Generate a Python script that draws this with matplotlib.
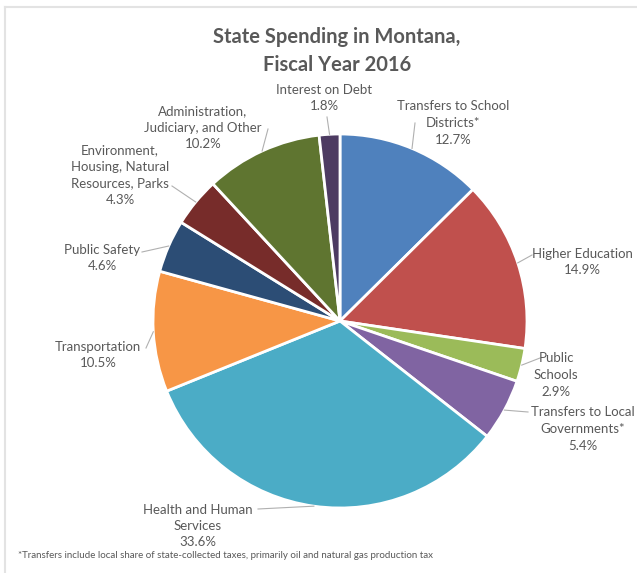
import numpy as np
import matplotlib
matplotlib.use("Agg")
import matplotlib.pyplot as plt
from matplotlib.lines import Line2D

plt.rcParams["font.family"] = ["Lato", "DejaVu Sans"]

categories = [
    "Transfers to School\nDistricts*",
    "Higher Education",
    "Public\nSchools",
    "Transfers to Local\nGovernments*",
    "Health and Human\nServices",
    "Transportation",
    "Public Safety",
    "Environment,\nHousing, Natural\nResources, Parks",
    "Administration,\nJudiciary, and Other",
    "Interest on Debt",
]
shares = [12.7, 14.9, 2.9, 5.4, 33.6, 10.5, 4.6, 4.3, 10.2, 1.8]
colors = ["#4F81BD", "#C0504D", "#9BBB59", "#8064A2", "#4BACC6",
          "#F79646", "#2C4D75", "#772C2A", "#5F7530", "#4D3B62"]

W, H = 637, 573
CX, CY, R = 340, 321, 187  # pie centre and radius in pixels

# label block centre and leader start, in pixels from top-left
label_pos = [(453, 123), (582, 262), (556, 375), (583, 429), (198, 526),
             (98, 355), (102, 258), (120, 175), (203, 128), (324, 98)]
leader_start = [(415, 123), (532, 255), (540, 358), (528, 412), (258, 509),
                (146, 348), (142, 252), (172, 186), (268, 129), (327, 117)]

TEXT = "#595959"


def px(x, y):
    return (x - CX) / R, (CY - y) / R


fig = plt.figure(figsize=(W / 100, H / 100), dpi=100)
ax = fig.add_axes([0, 0, 1, 1])

wedges, _ = ax.pie(shares, colors=colors, startangle=90, counterclock=False,
                   radius=1, center=(0, 0),
                   wedgeprops=dict(edgecolor="white", linewidth=2))

# pie() resets the limits, so map pixels to data units afterwards
ax.set_xlim(-CX / R, (W - CX) / R)
ax.set_ylim(-(H - CY) / R, CY / R)
ax.set_aspect("equal")
ax.axis("off")

for w, lab, val, (tx, ty), (sx, sy) in zip(wedges, categories, shares,
                                            label_pos, leader_start):
    mid = np.deg2rad((w.theta1 + w.theta2) / 2)
    ex, ey = np.cos(mid), np.sin(mid)
    x0, y0 = px(sx, sy)
    ax.add_line(Line2D([x0, ex], [y0, ey], color="#b0b0b0", lw=0.8))
    ax.text(*px(tx, ty), f"{lab}\n{val}%", ha="center", va="center",
            fontsize=9.5, color=TEXT, linespacing=1.45)

fig.text(337 / W, 1 - 51 / H, "State Spending in Montana,\nFiscal Year 2016",
         ha="center", va="center", fontsize=14.5, fontweight="bold",
         color=TEXT, linespacing=1.45)

fig.text(18 / W, 1 - 556 / H,
         "*Transfers include local share of state-collected taxes, primarily "
         "oil and natural gas production tax",
         ha="left", va="center", fontsize=7.0, color=TEXT)

# thin chart frame along the top and left edges
fig.add_artist(Line2D([5 / W, 1], [1 - 7 / H, 1 - 7 / H], color="#e3e3e3",
                      lw=1.5, transform=fig.transFigure))
fig.add_artist(Line2D([5 / W, 5 / W], [0, 1 - 7 / H], color="#e3e3e3",
                      lw=1.5, transform=fig.transFigure))

fig.savefig("out.png", dpi=100, facecolor="white")
